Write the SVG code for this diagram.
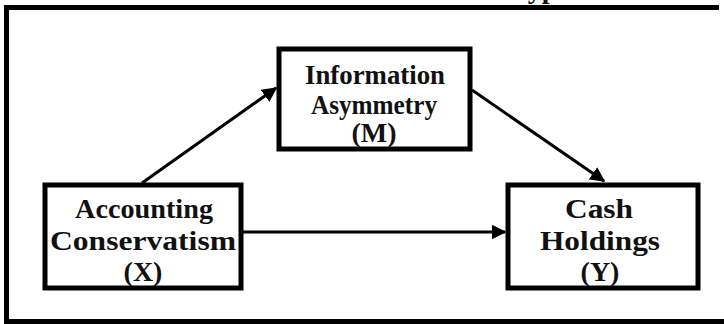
<svg xmlns="http://www.w3.org/2000/svg" width="724" height="324" viewBox="0 0 724 324">
<defs>
<style>
.box{fill:#fff;stroke:#000;stroke-width:5}
.lbl{font-family:"Liberation Serif","Times New Roman",serif;font-weight:bold;font-size:28px;text-anchor:middle;fill:#111}
.con{stroke:#000;stroke-width:3;fill:none}
</style>
<marker id="ah" viewBox="0 0 10 10" refX="9" refY="5" markerWidth="5" markerHeight="5" markerUnits="strokeWidth" orient="auto">
<path d="M0,0 L10,5 L0,10 z" fill="#000"/>
</marker>
</defs>
<rect width="724" height="324" fill="#fff"/>
<text class="lbl" x="506" y="-2" style="text-anchor:start">Hypothesis</text>
<g id="frame">
<path d="M719,7.5 H6.5 V321.5 H724" fill="none" stroke="#000" stroke-width="5"/>
</g>
<g id="connectors">
<line class="con" x1="142" y1="183" x2="276" y2="88" marker-end="url(#ah)"/>
<line class="con" x1="472" y1="90" x2="604" y2="181" marker-end="url(#ah)"/>
<line class="con" x1="243" y1="232" x2="505" y2="232" marker-end="url(#ah)"/>
</g>
<g id="node-m">
<rect class="box" x="279" y="49" width="191" height="100"/>
<text class="lbl" x="375" y="84" textLength="140" lengthAdjust="spacingAndGlyphs">Information</text>
<text class="lbl" x="374" y="114" textLength="126" lengthAdjust="spacingAndGlyphs">Asymmetry</text>
<text class="lbl" x="374" y="142">(M)</text>
</g>
<g id="node-x">
<rect class="box" x="45" y="185" width="196" height="103"/>
<text class="lbl" x="144" y="218" textLength="138" lengthAdjust="spacingAndGlyphs">Accounting</text>
<text class="lbl" x="143" y="250" textLength="186" lengthAdjust="spacingAndGlyphs">Conservatism</text>
<text class="lbl" x="143" y="281">(X)</text>
</g>
<g id="node-y">
<rect class="box" x="508" y="185" width="190" height="103"/>
<text class="lbl" x="599" y="218" textLength="68" lengthAdjust="spacingAndGlyphs">Cash</text>
<text class="lbl" x="600" y="250" textLength="120" lengthAdjust="spacingAndGlyphs">Holdings</text>
<text class="lbl" x="600" y="281">(Y)</text>
</g>
</svg>
